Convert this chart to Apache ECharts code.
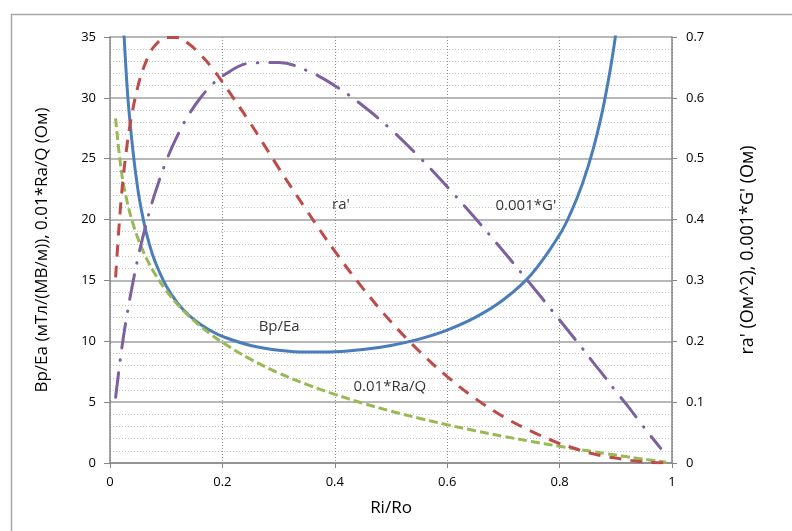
<!DOCTYPE html>
<html>
<head>
<meta charset="utf-8">
<script src="https://cdn.jsdelivr.net/npm/echarts@6/dist/echarts.min.js"></script>
<style>html,body{margin:0;padding:0;background:#fff;}#c{width:792px;height:531px;}</style>
</head>
<body>
<div id="c"></div>
<script>
// Ri/Ro sample points
const ratio = [0.01,0.02,0.03,0.04,0.05,0.06,0.07,0.08,0.1,0.12,0.14,0.16,0.18,0.2,0.25,0.3,0.35,0.4,0.45,0.5,0.55,0.6,0.65,0.7,0.75,0.8,0.82,0.84,0.86,0.88,0.9,0.92,0.94,0.96,0.98,0.99];
// Bp/Ea (left axis)
const bpEa = [72.7,41.0,31.2,26.0,22.35,19.83,17.98,16.57,14.54,13.16,12.16,11.42,10.85,10.40,9.66,9.27,9.11,9.14,9.32,9.66,10.18,10.92,11.96,13.41,15.51,18.76,20.58,22.86,25.82,29.77,35.28,43.6,null,null,null,null];
// 0.01*Ra/Q (left axis)
const raQ = [28.32,24.06,21.57,19.80,18.42,17.30,16.35,15.53,14.16,13.04,12.09,11.27,10.55,9.90,8.53,7.40,6.46,5.64,4.91,4.26,3.68,3.14,2.65,2.19,1.77,1.37,1.22,1.07,0.93,0.79,0.65,0.51,0.38,0.25,0.12,0.06];
// ra' (right axis)
const raPrime = [0.305,0.435,0.520,0.578,0.620,0.650,0.671,0.686,0.699,0.699,0.689,0.672,0.651,0.626,0.558,0.485,0.415,0.348,0.287,0.232,0.184,0.142,0.106,0.076,0.052,0.032,0.026,0.020,0.015,0.011,0.008,0.005,0.003,0.001,0.0003,0.0001];
// 0.001*G' (right axis)
const gPrime = [0.108,0.182,0.242,0.293,0.338,0.377,0.412,0.443,0.496,0.538,0.572,0.599,0.620,0.636,0.657,0.658,0.645,0.620,0.587,0.548,0.503,0.454,0.402,0.348,0.292,0.235,0.212,0.189,0.165,0.142,0.118,0.095,0.071,0.047,0.024,null];
// in-chart labels (data coordinates on left axis)
const noteText = ["ra'", "0.001*G'", "Bp/Ea", "0.01*Ra/Q"];
const noteX = [0.411, 0.740, 0.301, 0.498];
const noteY = [21.2, 21.1, 11.2, 6.3];

const pairs = ys => ratio.map((x, i) => [x, ys[i]]);
const FONT = 'Open Sans';
const chart = echarts.init(document.getElementById('c'), null, {renderer: 'canvas'});
chart.setOption({
  animation: false,
  backgroundColor: '#fff',
  textStyle: {fontFamily: FONT},
  graphic: [{
    type: 'rect', left: 9, top: 12, silent: true,
    shape: {width: 800, height: 540},
    style: {fill: 'none', stroke: '#a6a6a6', lineWidth: 1.5}
  }],
  grid: {left: 110, top: 37, right: 120, bottom: 68, containLabel: false},
  xAxis: {
    type: 'value', min: 0, max: 1, interval: 0.2,
    name: 'Ri/Ro', nameLocation: 'middle', nameGap: 37,
    nameTextStyle: {fontSize: 17, color: '#000', fontFamily: FONT},
    axisLine: {show: true, onZero: false, lineStyle: {color: '#868686', width: 1.5}},
    axisTick: {show: true, length: 5, lineStyle: {color: '#868686'}},
    axisLabel: {fontSize: 13, color: '#000', margin: 13, fontFamily: FONT},
    splitLine: {show: true, lineStyle: {color: '#8c8c8c', width: 1, type: [1, 2]}}
  },
  yAxis: [{
    type: 'value', min: 0, max: 35, interval: 5,
    name: 'Bp/Ea (мТл/(МВ/м)), 0.01*Ra/Q (Ом)', nameLocation: 'middle', nameGap: 59, nameRotate: 90,
    nameTextStyle: {fontSize: 17, color: '#000', fontFamily: FONT},
    axisLine: {show: true, lineStyle: {color: '#868686', width: 1.5}},
    axisTick: {show: true, length: 6, lineStyle: {color: '#868686'}},
    axisLabel: {fontSize: 13, color: '#000', margin: 14, fontFamily: FONT},
    splitLine: {show: true, lineStyle: {color: '#a0a0a0', width: 1.5}},
    minorTick: {show: false, splitNumber: 5},
    minorSplitLine: {show: true, lineStyle: {color: '#c4c4c4', width: 1, type: [1, 2]}}
  }, {
    type: 'value', min: 0, max: 0.7, interval: 0.1, position: 'right',
    name: "ra' (Ом^2), 0.001*G' (Ом)", nameLocation: 'middle', nameGap: 67, nameRotate: 90,
    nameTextStyle: {fontSize: 18, color: '#000', fontFamily: FONT},
    axisLine: {show: true, lineStyle: {color: '#868686', width: 1.5}},
    axisTick: {show: true, length: 5, lineStyle: {color: '#868686'}},
    axisLabel: {fontSize: 13, color: '#000', margin: 14, fontFamily: FONT},
    splitLine: {show: false}
  }],
  series: [{
    name: 'Bp/Ea', type: 'line', data: pairs(bpEa), smooth: 0.4, showSymbol: false, clip: true,
    lineStyle: {color: '#4a7ebb', width: 3}
  }, {
    name: '0.01*Ra/Q', type: 'line', data: pairs(raQ), smooth: 0.4, showSymbol: false, clip: true,
    lineStyle: {color: '#98b954', width: 3, type: [9, 4]}
  }, {
    name: "ra'", type: 'line', yAxisIndex: 1, data: pairs(raPrime), smooth: 0.4, showSymbol: false, clip: true,
    lineStyle: {color: '#be4b48', width: 3, type: [12, 9]}
  }, {
    name: "0.001*G'", type: 'line', yAxisIndex: 1, data: pairs(gPrime), smooth: 0.4, showSymbol: false, clip: true,
    lineStyle: {color: '#7d60a0', width: 3, type: [25, 12, 0.5, 12], cap: 'round'}
  }, {
    name: 'notes', type: 'scatter', symbolSize: 0, silent: true,
    data: noteText.map((t, i) => ({name: t, value: [noteX[i], noteY[i]]})),
    label: {show: true, position: 'inside', formatter: p => p.name, fontSize: 15, color: '#000', fontFamily: FONT}
  }]
});
</script>
</body>
</html>
